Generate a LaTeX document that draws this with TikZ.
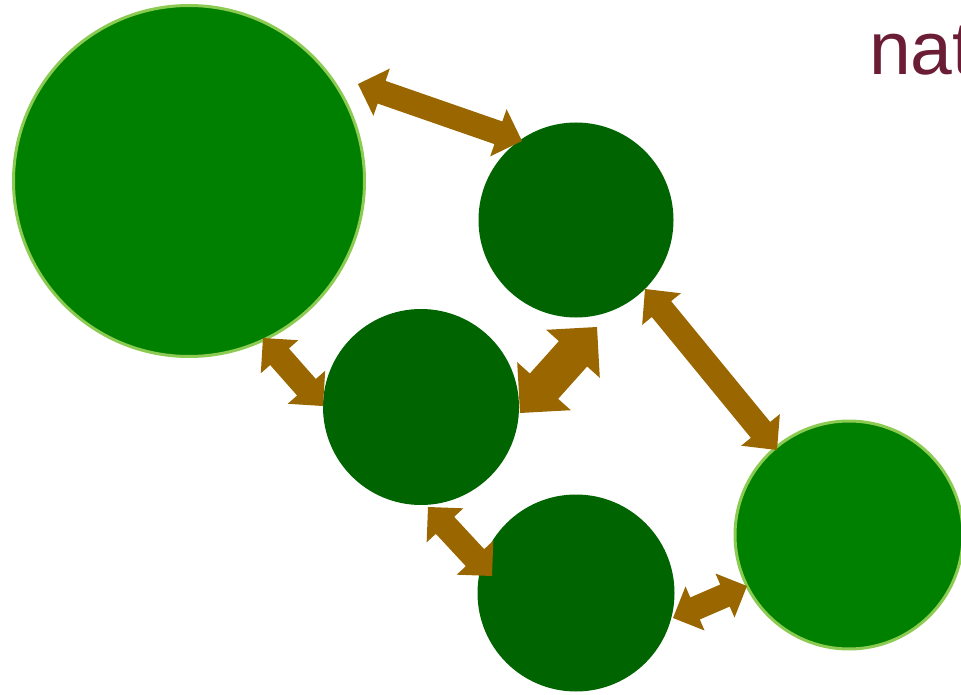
\documentclass[tikz,border=0pt]{standalone}
\usepackage{fontspec}
\newfontfamily\labelfont{Liberation Sans}
\usetikzlibrary{calc}
\definecolor{bigfill}{HTML}{008000}
\definecolor{smallfill}{HTML}{006400}
\definecolor{rimcol}{HTML}{8CCB52}
\definecolor{arrowcol}{HTML}{996600}
\definecolor{textcol}{HTML}{6B1D35}
\tikzset{
  bignode/.style={circle, fill=bigfill, draw=rimcol, line width=3pt, inner sep=0pt},
  smallnode/.style={circle, fill=smallfill, inner sep=0pt},
  arrowfill/.style={fill=arrowcol}
}
% #1 start tip, #2 end tip, #3 head length, #4 head half width, #5 shaft half width
\newcommand{\dblarrow}[5]{%
  \coordinate (pa) at ($(#1)!#3!(#2)$);
  \coordinate (pb) at ($(#2)!#3!(#1)$);
  \fill[arrowfill] (#1)
    -- ($(pa)!#4!90:(#2)$) -- ($(pa)!#5!90:(#2)$)
    -- ($(pb)!#5!90:(#2)$) -- ($(pb)!#4!90:(#2)$)
    -- (#2)
    -- ($(pb)!#4!-90:(#2)$) -- ($(pb)!#5!-90:(#2)$)
    -- ($(pa)!#5!-90:(#2)$) -- ($(pa)!#4!-90:(#2)$)
    -- cycle;
}
\begin{document}
\begin{tikzpicture}[x=1pt,y=-1pt]
\useasboundingbox (0,0) rectangle (961,695);
% circles
\node[bignode, minimum size=351pt] (big) at (189,181) {};
\node[smallnode, minimum size=195pt] (c2) at (576,220) {};
\node[smallnode, minimum size=196pt] (c3) at (421,407) {};
\node[smallnode, minimum size=197pt] (c4) at (576,593) {};
\node[bignode, minimum size=228pt] (c5) at (849,535) {};
% label
\node[anchor=base west, inner sep=0pt, text=textcol, font=\labelfont\fontsize{75}{80}\selectfont] (lbl) at (869,75) {nat};
% arrow end points
\coordinate (a1) at (358,84);  \coordinate (a2) at (522,141);
\coordinate (b1) at (520,413); \coordinate (b2) at (597,327);
\coordinate (e1) at (645,289); \coordinate (e2) at (777,450);
\coordinate (d1) at (263,338); \coordinate (d2) at (323,406);
\coordinate (f1) at (428,507); \coordinate (f2) at (492,576);
\coordinate (g1) at (673,618); \coordinate (g2) at (747,586);
% arrows
\dblarrow{a1}{a2}{25pt}{25pt}{12pt}
\dblarrow{b1}{b2}{36pt}{36pt}{19pt}
\dblarrow{e1}{e2}{26pt}{25pt}{12.5pt}
\dblarrow{d1}{d2}{25pt}{25pt}{12.5pt}
\dblarrow{f1}{f2}{25pt}{25pt}{12.5pt}
\dblarrow{g1}{g2}{24pt}{24pt}{12pt}
\end{tikzpicture}
\end{document}
